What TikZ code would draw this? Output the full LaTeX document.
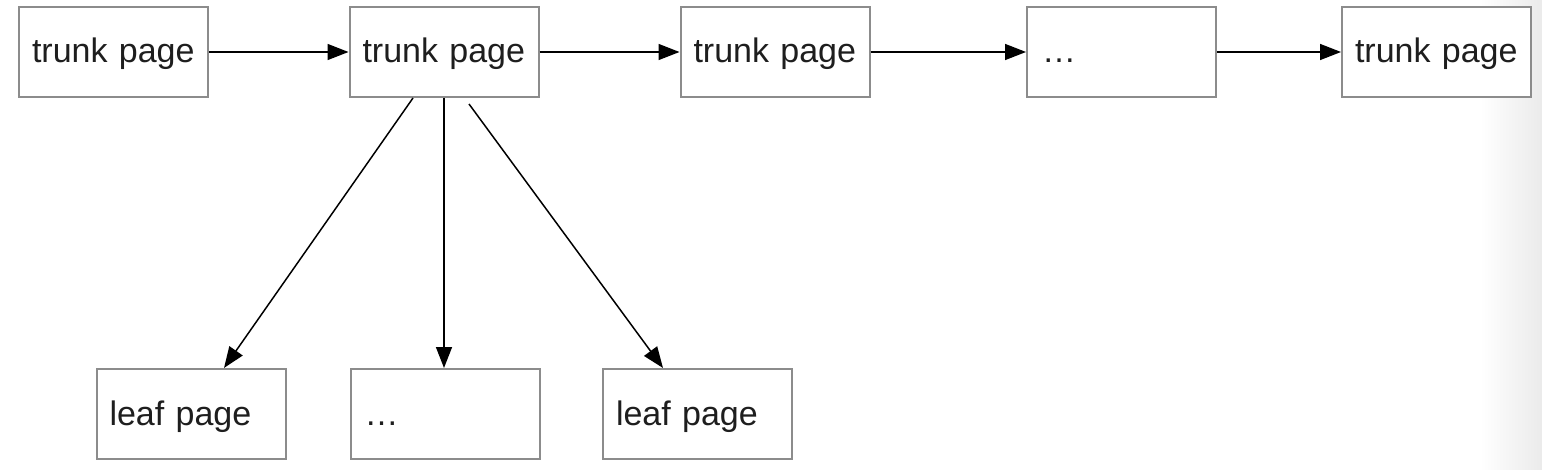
\documentclass[tikz,border=0pt]{standalone}
\usepackage{fontspec}
\setmainfont{Liberation Sans}
\usetikzlibrary{arrows.meta}
\definecolor{boxline}{HTML}{8C8C8C}
\definecolor{txt}{HTML}{1E1E1E}
\tikzset{
  page/.style={draw=boxline, line width=2pt, fill=white, rectangle,
    minimum width=189pt, minimum height=90pt, inner xsep=13pt, inner ysep=0pt,
    text width=163pt, align=left, text height=22pt, text depth=0pt,
    text=txt, font=\fontsize{34}{40}\selectfont},
  link/.style={line width=1.5pt, -{Triangle[length=21pt,width=16pt]}}
}
\begin{document}
\begin{tikzpicture}[x=1pt,y=-1pt]
\useasboundingbox (0,0) rectangle (1542,470);
\shade[left color=white, right color=black!8] (1480,0) rectangle (1542,470);
\node[page] (t1) at (113.5,52) {trunk page};
\node[page] (t2) at (444,52) {trunk page};
\node[page] (t3) at (775,52) {trunk page};
\node[page] (t4) at (1121.5,52) {\hspace*{2pt}…};
\node[page] (t5) at (1436.5,52) {trunk page};
\node[page] (l1) at (191,414) {leaf page};
\node[page] (l2) at (445,414) {\hspace*{1pt}…};
\node[page] (l3) at (697.5,414) {leaf page};
\draw[link] (t1.east) -- (t2.west);
\draw[link] (t2.east) -- (t3.west);
\draw[link] (t3.east) -- (t4.west);
\draw[link] (t4.east) -- (t5.west);
\draw[link] ([xshift=-31pt]t2.south) -- ([xshift=33pt]l1.north);
\draw[link] (t2.south) -- (t2.south |- l2.north);
\draw[link] ([xshift=25pt,yshift=-6pt]t2.south) -- ([xshift=-34.5pt]l3.north);
\end{tikzpicture}
\end{document}
